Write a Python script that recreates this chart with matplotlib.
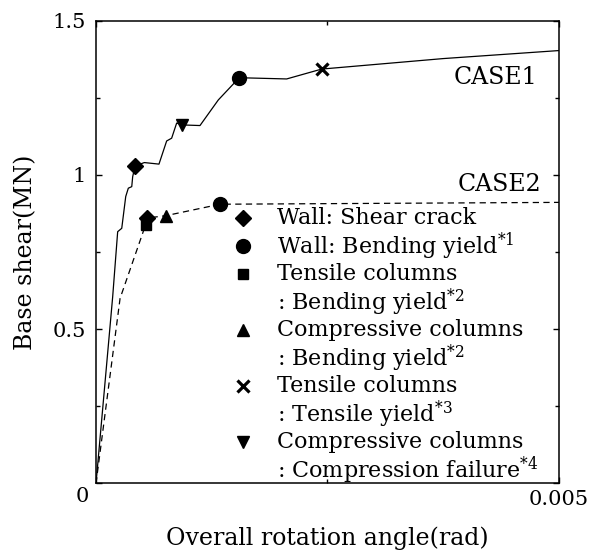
import matplotlib
matplotlib.use("Agg")
import matplotlib.pyplot as plt

plt.rcParams['font.family'] = ['DejaVu Serif']
plt.rcParams['mathtext.fontset'] = 'dejavuserif'
plt.rcParams['font.size'] = 15

# CASE1 (solid) and CASE2 (dashed) curves
case1_x = [0, 0.000180, 0.000234, 0.000278, 0.000321, 0.000349, 0.000386, 0.000396,
           0.000421, 0.000522, 0.000680, 0.000763, 0.000817, 0.000871, 0.000932,
           0.001123, 0.001321, 0.001547, 0.002059, 0.002437, 0.00375, 0.005]
case1_y = [0, 0.605, 0.816, 0.827, 0.930, 0.957, 0.962, 0.994,
           1.029, 1.040, 1.035, 1.110, 1.119, 1.168, 1.162,
           1.160, 1.243, 1.315, 1.311, 1.343, 1.377, 1.403]

case2_x = [0, 0.00026, 0.000504, 0.000535, 0.000547, 0.000756, 0.00134, 0.005]
case2_y = [0, 0.60, 0.811, 0.838, 0.860, 0.868, 0.905, 0.911]

# event points
wall_crack_x = [0.000421, 0.000547]
wall_crack_y = [1.029, 0.860]
wall_yield_x = [0.001547, 0.00134]
wall_yield_y = [1.315, 0.905]
tcol_bend_x = [0.000535]
tcol_bend_y = [0.838]
ccol_bend_x = [0.000756]
ccol_bend_y = [0.868]
tcol_tens_x = [0.002437]
tcol_tens_y = [1.343]
ccol_comp_x = [0.000932]
ccol_comp_y = [1.162]

legend_labels = [
    ["Wall: Shear crack"],
    ["Wall: Bending yield$^{*1}$"],
    ["Tensile columns", ": Bending yield$^{*2}$"],
    ["Compressive columns", ": Bending yield$^{*2}$"],
    ["Tensile columns", ": Tensile yield$^{*3}$"],
    ["Compressive columns", ": Compression failure$^{*4}$"],
]

fig = plt.figure(figsize=(5.89, 5.53), dpi=100)
ax = fig.add_axes([0.163, 0.1257, 0.786, 0.837])

ax.plot(case1_x, case1_y, color='black', lw=0.9)
ax.plot(case2_x, case2_y, color='black', lw=0.9, linestyle=(0, (5, 3.5)))

styles = [
    dict(marker='D', ms=8.5),
    dict(marker='o', ms=10),
    dict(marker='s', ms=7),
    dict(marker='^', ms=8.5),
    dict(marker='x', ms=8, mew=2.3),
    dict(marker='v', ms=8.5),
]
point_sets = [(wall_crack_x, wall_crack_y), (wall_yield_x, wall_yield_y),
              (tcol_bend_x, tcol_bend_y), (ccol_bend_x, ccol_bend_y),
              (tcol_tens_x, tcol_tens_y), (ccol_comp_x, ccol_comp_y)]
for (px, py), st in zip(point_sets, styles):
    ax.plot(px, py, linestyle='none', color='black', **st)

ax.text(0.00477, 1.317, "CASE1", ha='right', va='center', fontsize=17)
ax.text(0.00481, 0.968, "CASE2", ha='right', va='center', fontsize=17)

# legend drawn by hand so the marker sits on the first line
row_y = 0.574
step = 0.0605
for labels, st in zip(legend_labels, styles):
    ax.plot([0.3175], [row_y], transform=ax.transAxes, linestyle='none',
            color='black', clip_on=False, **st)
    for line in labels:
        ax.text(0.39, row_y, line, transform=ax.transAxes, ha='left', va='center',
                fontsize=16)
        row_y -= step

ax.set_xlim(0, 0.005)
ax.set_ylim(0, 1.5)
ax.set_xticks([0, 0.005])
ax.set_xticklabels(['', '0.005'])
ax.set_xticks([0.0025], minor=True)
ax.set_yticks([0, 0.5, 1, 1.5])
ax.set_yticklabels(['', '0.5', '1', '1.5'])
ax.set_yticks([0.25, 0.75, 1.25], minor=True)
ax.tick_params(which='both', direction='in', top=True, right=True, width=1)
ax.tick_params(which='major', length=4.5)
ax.tick_params(which='minor', length=3)
ax.tick_params(axis='y', which='major', pad=7)
ax.tick_params(axis='x', which='major', pad=5)
ax.annotate('0', xy=(0, 0), xytext=(-10, -9.7), textcoords='offset points',
            ha='center', va='center')

for s in ax.spines.values():
    s.set_linewidth(1.1)

ax.set_xlabel("Overall rotation angle(rad)", labelpad=12, fontsize=17)
ax.set_ylabel("Base shear(MN)", labelpad=11, fontsize=17)

fig.savefig("out.png", dpi=100)
